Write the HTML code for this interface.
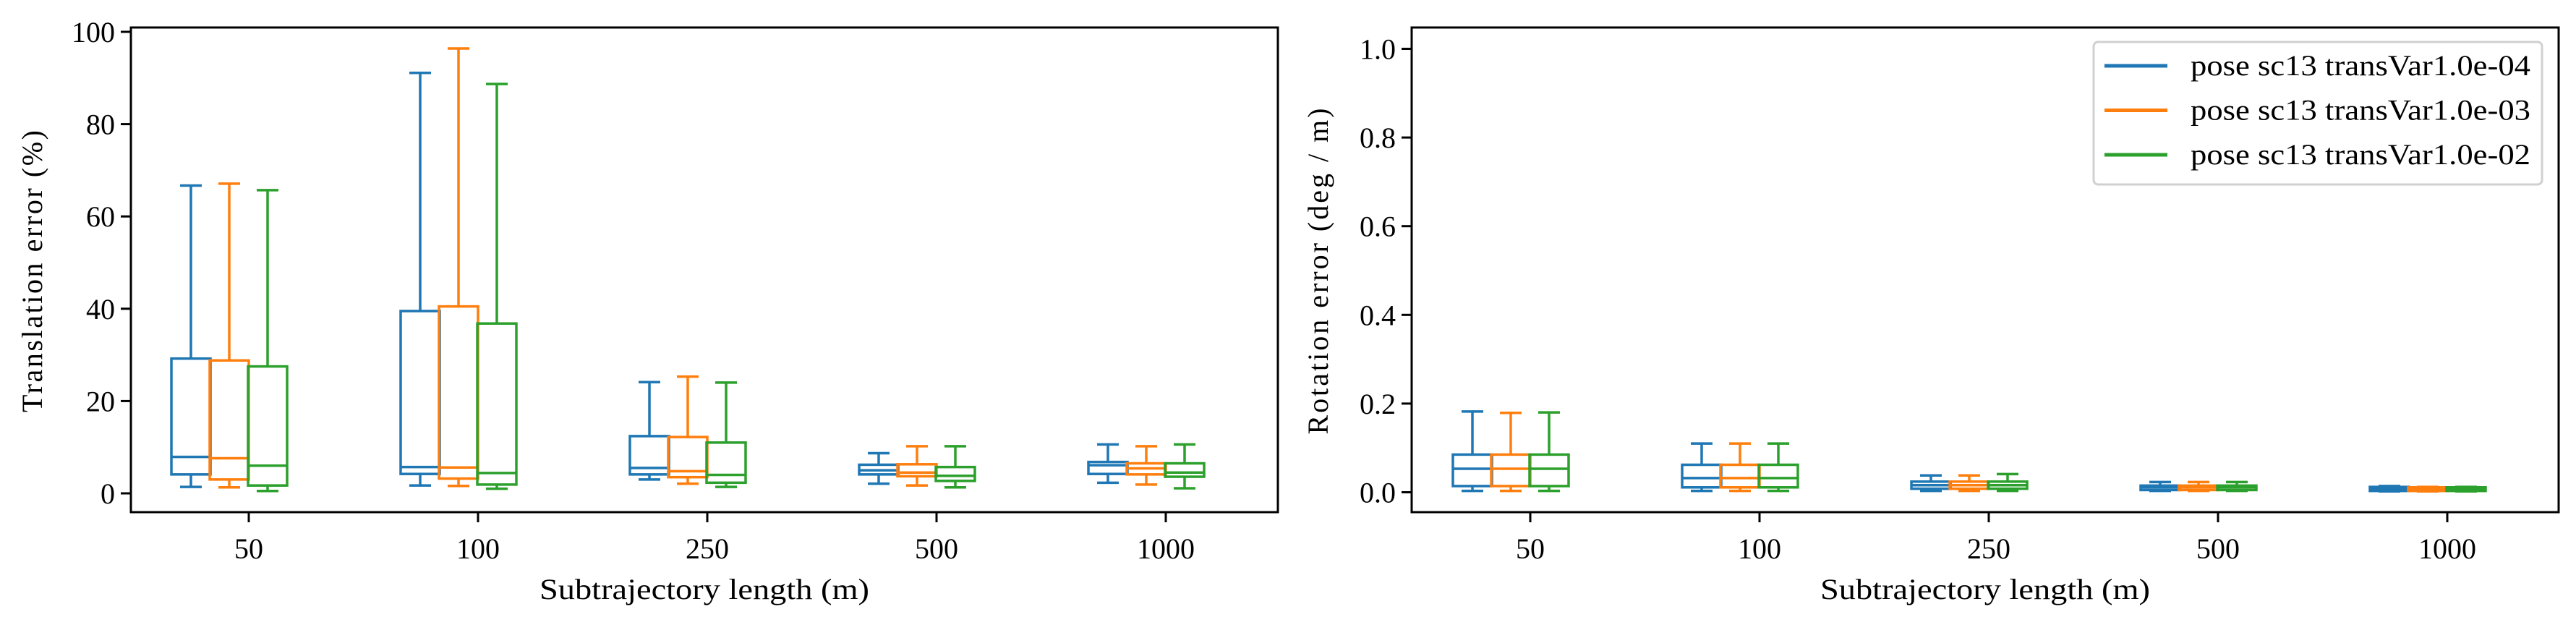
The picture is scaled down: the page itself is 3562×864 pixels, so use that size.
<!DOCTYPE html>
<html><head><meta charset="utf-8"><style>
body{margin:0;background:#fff}
svg{display:block}
text{font-family:"Liberation Serif",serif;fill:#000}
</style></head><body>
<svg id="c" width="3562" height="864" xmlns="http://www.w3.org/2000/svg"></svg>
<script>
const categories=["50","100","250","500","1000"];
const seriesNames=["pose sc13 transVar1.0e-04","pose sc13 transVar1.0e-03","pose sc13 transVar1.0e-02"];
const colors=["#1f77b4","#ff7f0e","#2ca02c"];
// [whisLo, q1, median, q3, whisHi] per category
const transBlue=[[1.4,4.1,7.9,29.2,66.7],[1.7,4.2,5.7,39.5,91.1],[3.0,4.1,5.5,12.4,24.1],[2.1,4.1,5.0,6.2,8.7],[2.3,4.2,6.1,6.8,10.6]];
const transOrange=[[1.3,3.0,7.6,28.8,67.1],[1.6,3.2,5.6,40.5,96.4],[2.1,3.5,4.8,12.2,25.3],[1.7,3.7,4.5,6.3,10.2],[1.9,4.1,5.4,6.5,10.2]];
const transGreen=[[0.5,1.7,6.0,27.5,65.7],[1.0,1.9,4.4,36.8,88.7],[1.4,2.3,4.0,11.0,24.0],[1.3,2.7,3.8,5.7,10.2],[1.1,3.6,4.5,6.5,10.6]];
const rotBlue=[[0.003,0.014,0.053,0.085,0.182],[0.003,0.011,0.032,0.062,0.110],[0.003,0.008,0.016,0.024,0.038],[0.003,0.005,0.011,0.015,0.023],[0.002,0.003,0.007,0.012,0.014]];
const rotOrange=[[0.003,0.014,0.053,0.085,0.179],[0.003,0.011,0.032,0.062,0.110],[0.003,0.008,0.016,0.024,0.038],[0.003,0.005,0.011,0.015,0.023],[0.002,0.003,0.007,0.011,0.012]];
const rotGreen=[[0.003,0.014,0.053,0.085,0.180],[0.003,0.011,0.032,0.062,0.110],[0.003,0.008,0.016,0.024,0.041],[0.003,0.005,0.011,0.015,0.023],[0.002,0.003,0.007,0.011,0.012]];
const transTicks=[0,20,40,60,80,100];
const rotTicks=["0.0","0.2","0.4","0.6","0.8","1.0"];

const svg=document.getElementById('c');
const NS="http://www.w3.org/2000/svg";
function mk(tag,attrs,parent){const e=document.createElementNS(NS,tag);for(const k in attrs)e.setAttribute(k,attrs[k]);(parent||svg).appendChild(e);return e;}

function panel(p){
  const g=mk('g',{});
  
  
  const y=v=>p.y0+(v-p.vmin)*(p.y1-p.y0)/(p.vmax-p.vmin);
  const x=i=>p.xl+p.first+i*p.step;
  const offs=[-80,-27,26], bw=54, cw=30;
  p.data.forEach((ser,si)=>{
    ser.forEach((d,ci)=>{
      const cx=x(ci)+offs[si], c=colors[si];
      const bg=mk('g',{stroke:c,'stroke-width':3.5,fill:'none'},g);
      
      
      mk('line',{x1:cx,x2:cx,y1:y(d[0]),y2:y(d[1])},bg);
      mk('line',{x1:cx,x2:cx,y1:y(d[3]),y2:y(d[4])},bg);
      mk('line',{x1:cx-cw/2,x2:cx+cw/2,y1:y(d[0]),y2:y(d[0])},bg);
      mk('line',{x1:cx-cw/2,x2:cx+cw/2,y1:y(d[4]),y2:y(d[4])},bg);
      mk('rect',{x:cx-bw/2,y:y(d[3]),width:bw,height:Math.max(0.1,y(d[1])-y(d[3]))},bg);
      mk('line',{x1:cx-bw/2,x2:cx+bw/2,y1:y(d[2]),y2:y(d[2])},bg);
    });
  });
  const fr=mk('rect',{x:p.xl,y:p.yt,width:p.xr-p.xl,height:p.yb-p.yt,fill:'none',stroke:'#000','stroke-width':3},g);
  
  
  p.ticks.forEach(t=>{
    const yy=y(parseFloat(t));
    mk('line',{x1:p.xl-14,x2:p.xl,y1:yy,y2:yy,stroke:'#000','stroke-width':3},g);
    const tx=mk('text',{x:p.xl-22,y:yy+14,'font-size':40,'text-anchor':'end'},g);
    tx.textContent=t;
    
    
  });
  categories.forEach((c,i)=>{
    mk('line',{x1:x(i),x2:x(i),y1:p.yb,y2:p.yb+14,stroke:'#000','stroke-width':3},g);
    const tx=mk('text',{x:x(i),y:772,'font-size':40,'text-anchor':'middle'},g);
    tx.textContent=c;
    
    
  });
  const xt=mk('text',{x:(p.xl+p.xr)/2-228,y:828,'font-size':40,textLength:456,lengthAdjust:'spacingAndGlyphs'},g);
  xt.textContent="Subtrajectory length (m)";
  
  
  const yt=mk('text',{x:-p.ylw/2,y:0,'font-size':40,textLength:p.ylw,lengthAdjust:'spacing',transform:`translate(${p.ylx},${p.ylc}) rotate(-90)`},g);
  yt.textContent=p.ylabel;
  
  
}
panel({name:'translation-error-chart',xl:181,xr:1767,yt:38,yb:708,first:163,step:317,vmin:0,vmax:100,y0:682,y1:44,
  data:[transBlue,transOrange,transGreen],ticks:transTicks.map(String),ylabel:"Translation error (%)",ylx:58,ylw:390,ylc:375});
panel({name:'rotation-error-chart',xl:1952,xr:3538,yt:38,yb:708,first:164,step:317,vmin:0,vmax:1,y0:680.5,y1:67.5,
  data:[rotBlue,rotOrange,rotGreen],ticks:rotTicks,ylabel:"Rotation error (deg / m)",ylx:1836,ylw:451,ylc:375});

// legend
const lg=mk('g',{});


mk('rect',{x:2895,y:58,width:620,height:197,rx:6,fill:'#fff',stroke:'#d0d0d0','stroke-width':3},lg);
seriesNames.forEach((n,i)=>{
  const yy=91+i*61.5;
  const e=mk('g',{},lg);
  
  
  mk('line',{x1:2910,x2:2997,y1:yy,y2:yy,stroke:colors[i],'stroke-width':5},e);
  const t=mk('text',{x:3029,y:yy+13,'font-size':40,textLength:470,lengthAdjust:'spacingAndGlyphs'},e);
  t.textContent=n;
});
</script>
</body></html>
